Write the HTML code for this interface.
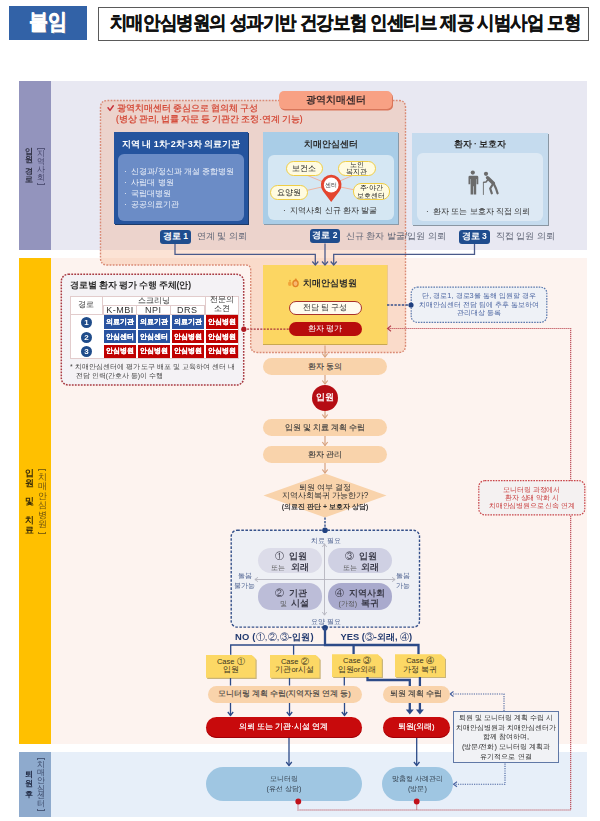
<!DOCTYPE html>
<html lang="ko"><head><meta charset="utf-8">
<style>
*{margin:0;padding:0;box-sizing:border-box}
html,body{width:600px;height:821px;background:#fff;overflow:hidden}
body{position:relative;font-family:"Liberation Sans",sans-serif;color:#333}
.a{position:absolute}
.c{display:flex;align-items:center;justify-content:center;text-align:center;white-space:nowrap}
.b{font-weight:bold}
.num{width:11px;height:11px;border-radius:50%;background:#1f4c8a;color:#fff;font-weight:bold;font-size:8px}
.cell{color:#fff;font-size:7px;font-weight:bold;-webkit-text-stroke:0.15px #fff}
.pch{z-index:5;border-radius:9px;background:#f9d3ab;font-size:7.5px;color:#3c3c3c;-webkit-text-stroke:0.12px #3c3c3c}
.q{z-index:3;border-radius:13px}
.ql{z-index:5;font-size:7px;line-height:9px;color:#4a5f8e;white-space:nowrap}
.qt{z-index:5;font-size:8.7px;line-height:11px;color:#3a3a48;white-space:nowrap}
.qs{z-index:5;font-size:7px;line-height:9px;color:#555;white-space:nowrap}
.cs{z-index:5;background:#fcd865;clip-path:polygon(0 0,calc(100% - 4px) 0,100% 4px,100% 100%,0 100%);display:flex;align-items:center;justify-content:center;text-align:center;font-size:7.5px;line-height:8.7px;color:#3a3420;white-space:nowrap}
.css{z-index:4;background:#c9b47a;clip-path:polygon(0 0,calc(100% - 4px) 0,100% 4px,100% 100%,0 100%)}
.cs span{font-size:7.5px}
.rp{z-index:5;border-radius:11px;background:#c80a0c;box-shadow:inset 0 -1px 0 #a00008;color:#fff;font-size:7.5px;-webkit-text-stroke:0.2px #fff}
.bp{z-index:5;border-radius:17px;background:#9fc6e2;color:#34404e;font-size:7.3px;line-height:10px}
svg{position:absolute;left:0;top:0;overflow:visible}
/* header */
#tag{left:8.8px;top:6.4px;width:78.7px;height:33.4px;background:#3262a7;color:#fff;font-size:21.5px;font-weight:bold;-webkit-text-stroke:0.5px #fff;text-shadow:1.2px 1.2px 0 #7d8aa6;padding-bottom:2.5px}
#title{left:97.5px;top:6.5px;width:491.5px;height:34px;border:1px solid #5a5a5a;background:#fff;color:#111;font-size:19px;font-weight:bold;letter-spacing:-1px;-webkit-text-stroke:0.35px #111;padding-bottom:2px}
/* bands */
.band{left:19px;width:32.2px}
.bg{left:19px;width:568px}
.vcol{display:flex;flex-direction:column;align-items:center}
.vcol i{font-style:normal;display:block;line-height:var(--h);height:var(--h)}
.vcol .bt,.vcol .bb{display:block;width:8px;height:2px;border:1px solid currentColor;opacity:.8}
.vcol .bt{border-bottom:none;margin-bottom:var(--g)}
.vcol .bb{border-top:none;margin-top:var(--g)}
</style></head><body><div id="root" style="position:absolute;left:0;top:0;width:600px;height:821px;filter:blur(0.4px)">

<!-- header -->
<div id="tag" class="a c"><span style="display:inline-block;transform:scaleX(.86)">붙임</span></div>
<div id="title" class="a c"><span style="display:inline-block;transform:translateX(2.4px) scaleX(.92)">치매안심병원의 성과기반 건강보험 인센티브 제공 시범사업 모형</span></div>

<!-- band backgrounds -->
<div class="a bg" style="top:81px;height:169px;background:#e8e8f2"></div>
<div class="a band" style="top:81px;height:169px;background:#9394bd"></div>
<div class="a bg" style="top:258px;height:486px;background:#fdf3ef"></div>
<div class="a band" style="top:258px;height:486px;background:#ffc000"></div>
<div class="a bg" style="top:752px;height:65px;background:#e7eff9"></div>
<div class="a band" style="top:752px;height:65px;background:#8eaacd"></div>

<!-- band labels -->
<div class="a vcol b" style="left:24.5px;top:146.5px;width:9px;font-size:8.3px;--h:8.6px;color:#2e2f40"><i>입</i><i>원</i><i style="margin-top:3px">경</i><i>로</i></div>
<div class="a vcol" style="left:37px;top:147.7px;width:8px;font-size:7.6px;--h:8.1px;--g:0.5px;color:#45456a"><b class="bt"></b><i>지</i><i>역</i><i>사</i><i>회</i><b class="bb"></b></div>
<div class="a vcol b" style="left:24.7px;top:467.8px;width:9px;font-size:9px;--h:10.4px;color:#3a2c08"><i>입</i><i>원</i><i style="margin-top:7px">및</i><i style="margin-top:8.6px">치</i><i>료</i></div>
<div class="a vcol" style="left:37.5px;top:468.6px;width:9px;font-size:8.5px;--h:9.5px;--g:2px;color:#6a5010"><b class="bt"></b><i>치</i><i>매</i><i>안</i><i>심</i><i>병</i><i>원</i><b class="bb"></b></div>
<div class="a vcol b" style="left:24.7px;top:770.3px;width:9px;font-size:8.3px;--h:8.6px;color:#26304a"><i>퇴</i><i>원</i><i style="margin-top:3px">후</i></div>
<div class="a vcol" style="left:37px;top:758px;width:8px;font-size:7.5px;--h:7.85px;--g:1px;color:#3a4868"><b class="bt"></b><i>치</i><i>매</i><i>안</i><i>심</i><i>센</i><i>터</i><b class="bb"></b></div>

<!-- orange dashed region (광역치매센터) -->
<svg width="600" height="821" style="z-index:1">
<path d="M107.5,100.5 H398.5 Q405.5,100.5 405.5,107.5 V345.5 Q405.5,352.5 398.5,352.5 H257.7 Q250.7,352.5 250.7,345.5 V270 Q250.7,265 245.7,265 H107.5 Q100.5,265 100.5,258 V107.5 Q100.5,100.5 107.5,100.5 Z" fill="rgba(245,165,120,0.31)" stroke="#d98a74" stroke-width="1.4" stroke-dasharray="1.8 1.3"/>
</svg>

<!-- section 1 -->
<svg width="600" height="821" style="z-index:2"><path d="M108,107.8 L110,110.4 L113.3,105.8" fill="none" stroke="#c8323a" stroke-width="1.5" stroke-linecap="round" stroke-linejoin="round"/></svg>
<div class="a" style="z-index:2;left:117.3px;top:103px;font-size:8.5px;line-height:11px;letter-spacing:-0.1px;color:#d2402e;-webkit-text-stroke:0.2px #d2402e;white-space:nowrap">광역치매센터 중심으로 협의체 구성</div>
<div class="a" style="z-index:2;left:116px;top:114px;font-size:8.5px;line-height:11px;letter-spacing:-0.1px;color:#d2402e;-webkit-text-stroke:0.2px #d2402e;white-space:nowrap">(병상 관리, 법률 자문 등 기관간 조정·연계 기능)</div>
<div class="a c b" style="z-index:3;left:279.3px;top:90.8px;width:113px;height:18.5px;border-radius:5px;background:#f8a184;box-shadow:1px 1.5px 0 #d9765a;font-size:10.2px;color:#3a2a2a">광역치매센터</div>

<!-- blue box 1 -->
<div class="a" style="z-index:2;left:114px;top:132px;width:134px;height:92px;background:#25549e;box-shadow:1px 1px 0 #1d3a68"></div>
<div class="a c b" style="z-index:3;left:114px;top:137px;width:134px;height:15px;font-size:9px;color:#fff">지역 내 1차·2차·3차 의료기관</div>
<div class="a" style="z-index:3;left:118px;top:154px;width:126px;height:67px;border-radius:6px;background:#6b8cc6"></div>
<div class="a" style="z-index:4;left:124px;top:166px;font-size:8.3px;line-height:11px;color:#eef2fa;white-space:nowrap">·&nbsp;&nbsp;신경과/정신과 개설 종합병원<br>·&nbsp;&nbsp;사립대 병원<br>·&nbsp;&nbsp;국립대병원<br>·&nbsp;&nbsp;공공의료기관</div>

<!-- 치매안심센터 box -->
<div class="a" style="z-index:2;left:263px;top:132px;width:135px;height:92px;background:#a9cde7;box-shadow:1px 1px 0 #8a9aa8"></div>
<div class="a c b" style="z-index:3;left:263px;top:137px;width:135px;height:15px;font-size:8.5px;color:#2a2a2a">치매안심센터</div>
<div class="a" style="z-index:3;left:267.5px;top:154.5px;width:126px;height:65.5px;border-radius:6px;background:#d5e7f3"></div>
<svg width="600" height="821" style="z-index:4">
<g stroke="#efb4a2" stroke-width="1" fill="none">
<line x1="330.5" y1="185" x2="304" y2="174"/><line x1="330.5" y1="185" x2="356" y2="174"/>
<line x1="330.5" y1="185" x2="300" y2="192"/><line x1="330.5" y1="185" x2="360" y2="191"/>
</g>
<path d="M331.2,202 L323,191.25 A10.3,10.3 0 1,1 339.4,191.25 Z" fill="#e4452f"/>
<circle cx="331.2" cy="185" r="7.4" fill="#fff"/>
</svg>
<div class="a c" style="z-index:5;left:322.7px;top:180.5px;width:17px;height:9px;font-size:6.3px;color:#444">센터</div>
<div class="a c" style="z-index:5;left:285.5px;top:160.5px;width:37.5px;height:15px;border-radius:8px;background:#fffbe0;border:1.5px solid #f0ce45;font-size:8px;color:#222">보건소</div>
<div class="a c" style="z-index:5;left:337.5px;top:160.5px;width:38.5px;height:15.5px;border-radius:8px;background:#fffbe0;border:1.5px solid #f0ce45;font-size:7px;line-height:7px;color:#222"><div>노인<br>복지관</div></div>
<div class="a c" style="z-index:5;left:269.5px;top:185px;width:38px;height:14.5px;border-radius:8px;background:#fffbe0;border:1.5px solid #f0ce45;font-size:8px;color:#222">요양원</div>
<div class="a c" style="z-index:5;left:352.5px;top:183px;width:37.5px;height:17px;border-radius:8px;background:#fffbe0;border:1.5px solid #f0ce45;font-size:7px;line-height:7.6px;color:#222"><div>주·야간<br>보호센터</div></div>
<div class="a" style="z-index:5;left:283px;top:206px;font-size:8.2px;line-height:10px;color:#333;white-space:nowrap">·&nbsp;&nbsp;지역사회 신규 환자 발굴</div>

<!-- 환자·보호자 box -->
<div class="a" style="z-index:2;left:412px;top:132.5px;width:136px;height:92px;background:#c5dbee;box-shadow:1px 1px 0 #8a96a2"></div>
<div class="a c b" style="z-index:3;left:412px;top:137px;width:136px;height:15px;font-size:8.5px;color:#2a2a2a">환자 · 보호자</div>
<div class="a" style="z-index:3;left:417px;top:153px;width:126px;height:68px;border-radius:6px;background:#dde9f4"></div>
<svg width="600" height="821" style="z-index:4">
<g fill="#6b6b6b">
<circle cx="472.8" cy="172.6" r="2.1"/>
<path d="M468.6,175.8 h8.4 q1.3,0 1.3,1.3 v7.2 h-1.7 v-5.3 h-0.4 v15.6 h-2.5 v-8.3 h-0.6 v8.3 h-2.5 v-15.6 h-0.4 v5.3 h-1.7 v-7.2 q0,-1.3 1.3,-1.3z"/>
<circle cx="486" cy="173.8" r="2.1"/>
</g>
<g fill="none" stroke="#6b6b6b" stroke-linecap="round" stroke-linejoin="round">
<path d="M487.6,177.8 L493.3,183.2" stroke-width="3.6"/>
<path d="M488.2,179.2 L486,182 L483.8,182.3" stroke-width="1.5"/>
<path d="M493.3,183.5 L490.2,188.5 L491.8,193.3" stroke-width="2.2"/>
<path d="M493.6,183.5 L496,188.5 L497.6,193.3" stroke-width="2.2"/>
<path d="M483.4,182.4 V194.5" stroke-width="0.9"/>
</g>
</svg>
<div class="a" style="z-index:5;left:426px;top:206.5px;font-size:8px;line-height:10px;color:#333;white-space:nowrap">·&nbsp;&nbsp;환자 또는 보호자 직접 의뢰</div>

<!-- 경로 labels -->
<div class="a c b" style="z-index:5;left:160px;top:230px;width:31px;height:14px;border-radius:3px;background:#1f4d8e;color:#fff;font-size:8.5px">경로 1</div>
<div class="a" style="z-index:5;left:197px;top:231px;font-size:8.7px;line-height:11px;color:#5d6374;white-space:nowrap">연계 및 의뢰</div>
<div class="a c b" style="z-index:5;left:310px;top:229px;width:30px;height:14px;border-radius:3px;background:#1f4d8e;color:#fff;font-size:8.5px">경로 2</div>
<div class="a" style="z-index:5;left:346px;top:231px;font-size:8.7px;line-height:11px;color:#5d6374;white-space:nowrap">신규 환자 발굴/입원 의뢰</div>
<div class="a c b" style="z-index:5;left:459px;top:230px;width:30.5px;height:14px;border-radius:3px;background:#1f4d8e;color:#fff;font-size:8.5px">경로 3</div>
<div class="a" style="z-index:5;left:496px;top:231px;font-size:8.7px;line-height:11px;color:#5d6374;white-space:nowrap">직접 입원 의뢰</div>
<!-- table box -->
<svg width="600" height="821" style="z-index:2"><rect x="61.3" y="274.3" width="182.4" height="110.7" rx="7" fill="#f4f2f5" stroke="#a83a42" stroke-width="1.5" stroke-dasharray="1.8 1.2"/></svg>
<div class="a b" style="z-index:3;left:70.3px;top:278.5px;letter-spacing:-0.15px;font-size:8.6px;line-height:13px;color:#2a2a2a;white-space:nowrap">경로별 환자 평가 수행 주체(안)</div>
<div class="a" style="z-index:3;left:69.5px;top:295.5px;width:169.5px;height:63.5px;background:#fff;border:1px solid #e2cccc"></div>
<div id="tbl" class="a" style="z-index:4;left:69.5px;top:295.5px;width:169.5px;height:63.5px;font-size:8.3px;color:#333">
<div class="a c" style="left:0;top:0;width:33.5px;height:19px;border-right:1px solid #e2cccc;border-bottom:1px solid #e2cccc;font-size:8px">경로</div>
<div class="a c" style="left:33.5px;top:0;width:101.5px;height:10px;border-bottom:1px solid #e2cccc;font-size:7.9px">스크리닝</div>
<div class="a c" style="left:33.5px;top:10px;width:33.5px;height:9px;border-right:1px solid #e2cccc;border-left:1px solid #e2cccc;border-bottom:1px solid #e2cccc;font-size:9px;letter-spacing:0.5px;padding-left:0.5px">K-MBI</div>
<div class="a c" style="left:67px;top:10px;width:34px;height:9px;border-right:1px solid #e2cccc;border-bottom:1px solid #e2cccc;font-size:9px;letter-spacing:0.5px;padding-left:0.5px">NPI</div>
<div class="a c" style="left:101px;top:10px;width:34px;height:9px;border-right:1px solid #e2cccc;border-bottom:1px solid #e2cccc;font-size:9px;letter-spacing:0.5px;padding-left:0.5px">DRS</div>
<div class="a c" style="left:135px;top:0;width:34.5px;height:19px;border-left:1px solid #e2cccc;border-bottom:1px solid #e2cccc;font-size:7.7px;line-height:8.8px"><div>전문의<br>소견</div></div>
<div class="a c num" style="left:11.5px;top:21.2px">1</div>
<div class="a c cell" style="left:34.5px;top:19.5px;width:32px;height:13.5px;background:#2953a0">의료기관</div>
<div class="a c cell" style="left:68px;top:19.5px;width:32px;height:13.5px;background:#2953a0">의료기관</div>
<div class="a c cell" style="left:102px;top:19.5px;width:32px;height:13.5px;background:#2953a0">의료기관</div>
<div class="a c cell" style="left:136px;top:19.5px;width:32.5px;height:13.5px;background:#c00000">안심병원</div>
<div class="a c num" style="left:11.5px;top:36.1px">2</div>
<div class="a c cell" style="left:34.5px;top:34.4px;width:32px;height:13.5px;background:#2953a0">안심센터</div>
<div class="a c cell" style="left:68px;top:34.4px;width:32px;height:13.5px;background:#2953a0">안심센터</div>
<div class="a c cell" style="left:102px;top:34.4px;width:32px;height:13.5px;background:#c00000">안심병원</div>
<div class="a c cell" style="left:136px;top:34.4px;width:32.5px;height:13.5px;background:#c00000">안심병원</div>
<div class="a c num" style="left:11.5px;top:50.8px">3</div>
<div class="a c cell" style="left:34.5px;top:49.1px;width:32px;height:13.5px;background:#c00000">안심병원</div>
<div class="a c cell" style="left:68px;top:49.1px;width:32px;height:13.5px;background:#c00000">안심병원</div>
<div class="a c cell" style="left:102px;top:49.1px;width:32px;height:13.5px;background:#c00000">안심병원</div>
<div class="a c cell" style="left:136px;top:49.1px;width:32.5px;height:13.5px;background:#c00000">안심병원</div>
</div>
<div class="a" style="z-index:3;left:70px;top:362px;font-size:6.9px;line-height:9.3px;color:#444;white-space:nowrap">*&nbsp;치매안심센터에 평가 도구 배포 및 교육하여 센터 내<br>&nbsp;&nbsp;&nbsp;전담 인력(간호사 등)이 수행</div>

<!-- yellow box 치매안심병원 -->
<div class="a" style="z-index:2;left:262.8px;top:265px;width:124.2px;height:80px;background:#fcd662;border-bottom:1px solid #c9a850;box-shadow:0.5px 0 0 #e0b850"></div>
<svg width="600" height="821" style="z-index:3">
<ellipse cx="289.8" cy="283.8" rx="1.8" ry="2.3" fill="#f2a43a"/>
<circle cx="290" cy="280.7" r="0.9" fill="#eaa030"/>
<ellipse cx="295.5" cy="283.6" rx="2.6" ry="3.1" fill="#f9b870" stroke="#e28224" stroke-width="1.3"/>
<circle cx="295.8" cy="279.6" r="1.1" fill="#e28a2a"/>
</svg>
<div class="a b" style="z-index:3;left:303px;top:277px;font-size:8.6px;line-height:13px;color:#2a2a2a;white-space:nowrap">치매안심병원</div>
<div class="a c" style="z-index:5;left:288.5px;top:300.5px;width:73px;height:14.5px;border-radius:8px;background:#fffbee;border:1.4px solid #a8322c;font-size:7.5px;color:#333">전담 팀 구성</div>
<div class="a c" style="z-index:5;left:288.5px;top:321.5px;width:73px;height:14.5px;border-radius:8px;background:#b80c0c;font-size:7.6px;color:#fff">환자 평가</div>

<!-- note 1 (blue dashed) -->
<svg width="600" height="821" style="z-index:5"><rect x="411.2" y="287.2" width="135.6" height="35.1" rx="6" fill="#eef1f6" stroke="#5a78ad" stroke-width="1.2" stroke-dasharray="1.6 1.1"/></svg>
<div class="a c" style="z-index:5;left:411px;top:287px;width:136px;height:35.5px;font-size:7.4px;line-height:8.5px;color:#4a64a0;white-space:nowrap">단, 경로1, 경로3을 통해 입원할 경우<br>치매안심센터 전담 팀에 추후 통보하여<br>관리대상 등록</div>

<!-- note 2 (red dashed) -->
<svg width="600" height="821" style="z-index:5"><rect x="478.8" y="480.7" width="106" height="34.2" rx="6" fill="#f4f1f1" stroke="#c8454a" stroke-width="1.2" stroke-dasharray="1.6 1.1"/></svg>
<div class="a c" style="z-index:5;left:478.4px;top:480.3px;width:106.8px;height:35px;font-size:7.2px;line-height:8.3px;letter-spacing:-0.15px;color:#c83c3c;white-space:nowrap;padding-top:1px">모니터링 과정에서<br>환자 상태 악화 시<br>치매안심병원으로 신속 연계</div>

<!-- flow -->
<div class="a c pch" style="left:262.5px;top:358px;width:124.5px;height:17px">환자 동의</div>
<div class="a c" style="z-index:5;left:312px;top:384.5px;width:26px;height:26px;border-radius:50%;background:#b50d14;color:#fff;font-size:8.8px;font-weight:bold">입원</div>
<div class="a c pch" style="left:262.5px;top:419.3px;width:124.5px;height:16.8px">입원 및 치료 계획 수립</div>
<div class="a c pch" style="left:262.5px;top:446px;width:124.5px;height:17px">환자 관리</div>
<svg width="600" height="821" style="z-index:3">
<path d="M325,473.5 L386.5,495.5 L325,517.5 L263.5,495.5 Z" fill="#f9d3ab"/>
</svg>
<div class="a" style="z-index:5;left:263px;top:482.5px;width:124px;text-align:center;font-size:8.2px;line-height:9px;color:#333;white-space:nowrap">퇴원 여부 결정</div>
<div class="a" style="z-index:5;left:263px;top:490.8px;width:124px;text-align:center;font-size:8.4px;line-height:9px;color:#333;white-space:nowrap">지역사회복귀 가능한가?</div>
<div class="a b" style="z-index:5;left:263px;top:501.5px;width:124px;text-align:center;font-size:7px;line-height:9px;color:#333;white-space:nowrap">(의료진 판단 + 보호자 상담)</div>
<!-- quadrant -->
<svg width="600" height="821" style="z-index:2"><rect x="231.2" y="530.3" width="188.3" height="96.8" rx="6" fill="#eef0f5" stroke="#34508a" stroke-width="1.4" stroke-dasharray="2.6 1.5"/></svg>
<div class="a q" style="left:257.5px;top:548px;width:64px;height:25px;background:#dcdce9"></div>
<div class="a q" style="left:328px;top:548px;width:63.5px;height:25px;background:#cfd0e3"></div>
<div class="a q" style="left:257.5px;top:582.5px;width:64px;height:27px;background:#bcbdd8"></div>
<div class="a q" style="left:328px;top:582.5px;width:63.5px;height:27px;background:#a9aacd"></div>
<svg width="600" height="821" style="z-index:4">
<g stroke="#b4b4be" stroke-width="0.9" fill="none">
<line x1="324.5" y1="544" x2="324.5" y2="615"/>
<line x1="255" y1="579.5" x2="395" y2="579.5"/>
<path d="M322.3,547 L324.5,543.8 L326.7,547"/><path d="M322.3,612 L324.5,615.2 L326.7,612"/>
<path d="M258,577.3 L254.8,579.5 L258,581.7"/><path d="M392,577.3 L395.2,579.5 L392,581.7"/>
</g>
</svg>
<div class="a ql" style="left:311px;top:536px">치료 필요</div>
<div class="a ql" style="left:311px;top:616.5px">요양 필요</div>
<div class="a ql" style="left:234px;top:571px;line-height:9.5px;text-align:center">돌봄<br>불가능</div>
<div class="a ql" style="left:396px;top:571px;line-height:9.5px;text-align:center">돌봄<br>가능</div>
<div class="a qt" style="left:275px;top:551px">①</div><div class="a qt b" style="left:288.5px;top:551px">입원</div>
<div class="a qs" style="left:271px;top:563px">또는</div><div class="a qt b" style="left:291px;top:562px">외래</div>
<div class="a qt" style="left:345px;top:551px">③</div><div class="a qt b" style="left:358.5px;top:551px">입원</div>
<div class="a qs" style="left:342.5px;top:563px">또는</div><div class="a qt b" style="left:361px;top:562px">외래</div>
<div class="a qt" style="left:275px;top:588px">②</div><div class="a qt b" style="left:288.5px;top:588px">기관</div>
<div class="a qs" style="left:279.5px;top:599px">및</div><div class="a qt b" style="left:291px;top:598px">시설</div>
<div class="a qt" style="left:335px;top:588px">④</div><div class="a qt b" style="left:348.5px;top:588px">지역사회</div>
<div class="a qs" style="left:338.5px;top:599px">(가정)</div><div class="a qt b" style="left:361px;top:598px">복귀</div>

<div class="a b" style="z-index:5;left:235px;top:631px;letter-spacing:0.2px;font-size:9.4px;line-height:12px;color:#22396f;white-space:nowrap">NO (<span style="font-weight:normal">①,②,③</span>-입원)</div>
<div class="a b" style="z-index:5;left:340.5px;top:631px;font-size:9.3px;line-height:12px;color:#22396f;white-space:nowrap">YES (<span style="font-weight:normal">③</span>-외래, <span style="font-weight:normal">④</span>)</div>

<!-- case boxes -->
<div class="a css" style="left:207.2px;top:656.0px;width:49.5px;height:23px"></div><div class="a cs" style="left:206px;top:654.8px;width:49.5px;height:23px"><div>Case ①<br><span>입원</span></div></div>
<div class="a css" style="left:271.2px;top:656.0px;width:49.5px;height:23px"></div><div class="a cs" style="left:270px;top:654.8px;width:49.5px;height:23px"><div>Case ②<br><span>기관or시설</span></div></div>
<div class="a css" style="left:333.2px;top:655.5px;width:49.8px;height:22.7px"></div><div class="a cs" style="left:332px;top:654.3px;width:49.8px;height:22.7px"><div>Case ③<br><span>입원or외래</span></div></div>
<div class="a css" style="left:396.2px;top:655.5px;width:50px;height:22.7px"></div><div class="a cs" style="left:395px;top:654.3px;width:50px;height:22.7px"><div>Case ④<br><span>가정 복귀</span></div></div>

<div class="a c pch" style="left:207.5px;top:685.5px;width:154.5px;height:17px;justify-content:flex-start;padding-left:10px">모니터링 계획 수립(지역자원 연계 등)</div>
<div class="a c pch" style="left:382.5px;top:685.5px;width:67px;height:17px">퇴원 계획 수립</div>
<div class="a c rp" style="left:205.5px;top:716.5px;width:156px;height:21.5px">의뢰 또는 기관·시설 연계</div>
<div class="a c rp" style="left:382.5px;top:716.5px;width:67px;height:21.5px">퇴원(외래)</div>

<!-- note 3 (blue solid) -->
<div class="a c" style="z-index:5;left:453.3px;top:711.3px;width:105.4px;height:52px;border:1.4px solid #6078a6;background:#f1f2f5;font-size:7.4px;line-height:9.8px;color:#2e2e2e;white-space:nowrap">퇴원 및 모니터링 계획 수립 시<br>치매안심병원과 치매안심센터가<br>함께 참여하며,<br>(방문/전화) 모니터링 계획과<br>유기적으로 연결</div>

<!-- band 3 pills -->
<div class="a c bp" style="left:206px;top:766.5px;width:156px;height:34.5px"><div>모니터링<br>(유선 상담)</div></div>
<div class="a c bp" style="left:381.7px;top:766.5px;width:71.6px;height:34.5px"><div>맞춤형 사례관리<br>(방문)</div></div>
<!-- connectors -->
<svg width="600" height="821" style="z-index:4">
<defs>
<marker id="av" markerWidth="8" markerHeight="8" refX="4" refY="4" orient="auto" markerUnits="userSpaceOnUse"><path d="M1,0.8 L4,4 L1,7.2" fill="none" stroke="#4a5a8a" stroke-width="1.1"/></marker>
</defs>
<g fill="none" stroke="#4a5a8a" stroke-width="1.3">
<path d="M175,244 V254.3 H315.3 V265"/>
<path d="M325,243.5 V265"/>
<path d="M474.5,244 V254.3 H333.7 V265"/>
<path d="M312.3,261.5 L315.3,265 L318.3,261.5"/>
<path d="M322,261.5 L325,265 L328,261.5"/>
<path d="M330.7,261.5 L333.7,265 L336.7,261.5"/>
</g>
<g fill="none" stroke="#d7a17d" stroke-width="1.2">
<path d="M325,345.5 V357"/><path d="M322.3,353.5 L325,357 L327.7,353.5"/>
<path d="M325,375 V384"/><path d="M322.3,380.5 L325,384 L327.7,380.5"/>
<path d="M325,410.5 V418"/><path d="M322.3,414.5 L325,418 L327.7,414.5"/>
<path d="M325,435.5 V445.5"/><path d="M322.3,442 L325,445.5 L327.7,442"/>
<path d="M325,463 V473"/><path d="M322.3,469.5 L325,473 L327.7,469.5"/>
</g>
<path d="M325,517.5 V530" stroke="#34508a" stroke-width="1.4" stroke-dasharray="2.2 1.3"/>
<circle cx="325" cy="530.3" r="2.8" fill="#1f4080"/>
<circle cx="325" cy="627.8" r="2.8" fill="#1f4080"/>
<g fill="none" stroke="#2c4a88" stroke-width="1.3">
<path d="M230.7,654.7 V645 H325"/><path d="M293.6,645 V654.7"/>
<path d="M230.5,678 V685.5"/><path d="M289.5,678 V685.5"/><path d="M344.3,677 V685.5"/>
<path d="M230.5,702.5 V715.5"/><path d="M289.5,702.5 V715.5"/><path d="M344.5,702.5 V715.5"/>
<path d="M227.8,712 L230.5,715.5 L233.2,712"/><path d="M286.8,712 L289.5,715.5 L292.2,712"/><path d="M341.8,712 L344.5,715.5 L347.2,712"/>
<path d="M289,738 V765.5"/><path d="M286.2,762 L289,765.5 L291.8,762"/>
<path d="M416.7,738 V765.5"/><path d="M413.9,762 L416.7,765.5 L419.5,762"/>
</g>
<g fill="none" stroke="#2c4a88" stroke-width="2.3">
<path d="M325,628 V645 H418.5 V654.2"/><path d="M353.6,645 V654.2"/>
<path d="M367.5,677 V680 H409.8 V686"/><path d="M419.9,677 V686"/>
<path d="M409.8,702.5 V711"/><path d="M419.9,702.5 V711"/>
</g>
<g fill="#2c4a88">
<path d="M405.8,709.5 L413.8,709.5 L409.8,714.5 Z"/><path d="M415.9,709.5 L423.9,709.5 L419.9,714.5 Z"/>
</g>
<!-- blue dashed to note1 -->
<path d="M387,305 H410" stroke="#34508a" stroke-width="1.3" stroke-dasharray="2.4 1.3"/>
<!-- red dotted -->
<g fill="none" stroke="#b8404c" stroke-width="1.1" stroke-dasharray="1.1 0.9">
<path d="M298,801.5 V810 H570.7 V328.5 H388"/>
<path d="M416.7,801.5 V810"/>
</g>
<path d="M243.8,329.2 H289" fill="none" stroke="#a8323a" stroke-width="1.2" stroke-dasharray="2 1.3"/>
<path d="M391,325.8 L387.5,328.5 L391,331.2" fill="none" stroke="#b8404c" stroke-width="1.1"/>
<!-- blue dotted note3 -->
<g fill="none" stroke="#4a64a0" stroke-width="1.1" stroke-dasharray="1.2 1.1">
<path d="M504,711 V694 H451"/>
<path d="M505,763.5 V784.3 H455"/>
</g>
<path d="M453.5,691.5 L450,694 L453.5,696.5" fill="none" stroke="#4a64a0" stroke-width="1.1"/>
<path d="M457,781.8 L453.5,784.3 L457,786.8" fill="none" stroke="#4a64a0" stroke-width="1.1"/>
</svg>

<svg width="600" height="821" style="z-index:7">
<circle cx="411" cy="305" r="2.6" fill="#1f4080"/>
<circle cx="243.8" cy="329.2" r="2.6" fill="#b01820"/>
<circle cx="298.3" cy="801.5" r="2.9" fill="#c0101a"/>
<circle cx="416.7" cy="801.5" r="2.9" fill="#c0101a"/>
</svg>
</div></body></html>
